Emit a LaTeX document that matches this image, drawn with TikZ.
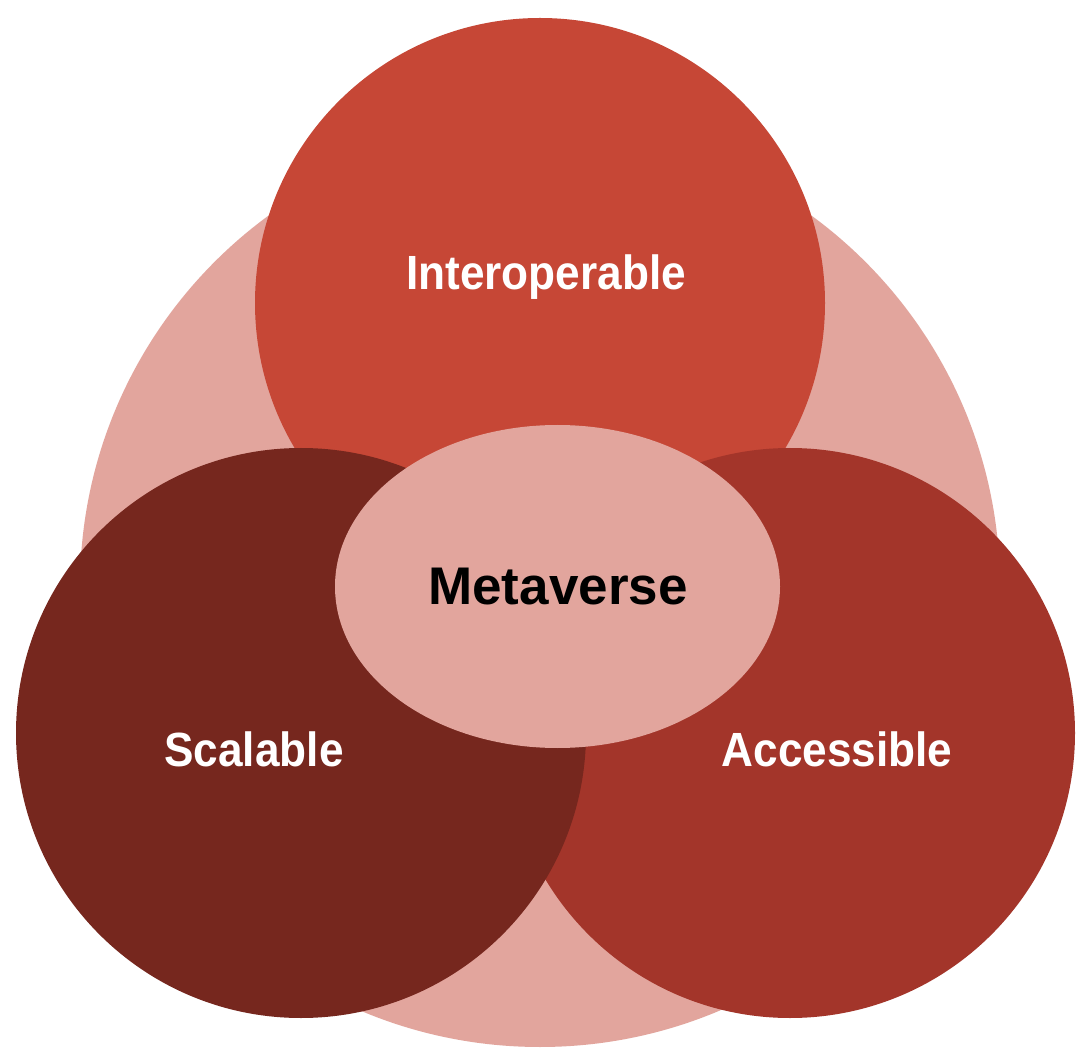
\documentclass[tikz,border=0pt]{standalone}
\usepackage{fontspec}
\setmainfont{Liberation Sans}
\newfontfamily\lblfont[FakeStretch=0.92]{Liberation Sans}
\definecolor{bgpink}{HTML}{E2A59D}
\definecolor{topred}{HTML}{C64736}
\definecolor{rightred}{HTML}{A3352A}
\definecolor{leftred}{HTML}{76271E}
\begin{document}
\begin{tikzpicture}[x=1pt,y=-1pt,
  petallabel/.style={text=white,font=\lblfont\fontsize{48}{56}\selectfont\bfseries,anchor=base,inner sep=0pt},
  corelabel/.style={text=black,font=\fontsize{53}{60}\selectfont\bfseries,anchor=base,inner sep=0pt}]
\useasboundingbox[fill=white] (0,0) rectangle (1088,1064);
% outer disc
\fill[bgpink] (540,587) circle[radius=460];
% three petals
\fill[topred] (540,303) circle[radius=285];
\fill[rightred] (790,733) circle[radius=285];
\fill[leftred] (301,733) circle[radius=285];
% core
\fill[bgpink] (557.5,586.5) ellipse[x radius=222.5,y radius=161.5];
% labels
\node[petallabel] (interop) at (546,290) {Interoperable};
\node[petallabel] (scal) at (254,766) {Scalable};
\node[petallabel] (acc) at (837,766) {Accessible};
\node[corelabel] (meta) at (558,605) {Metaverse};
\end{tikzpicture}
\end{document}
